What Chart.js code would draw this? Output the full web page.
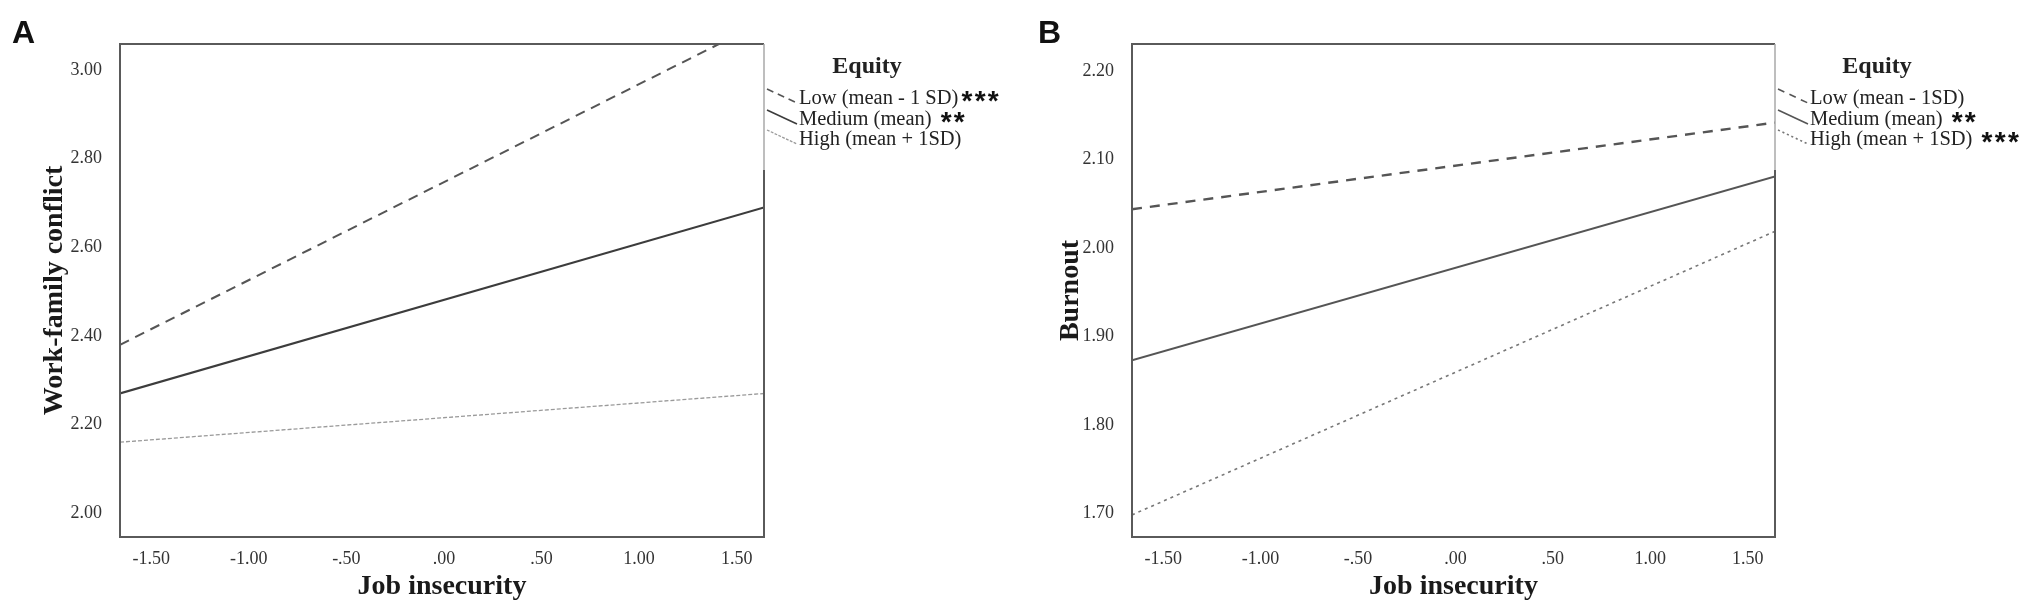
<!DOCTYPE html>
<html>
<head>
<meta charset="utf-8">
<script src="https://cdn.jsdelivr.net/npm/chart.js@4.4.1/dist/chart.umd.min.js"></script>
<style>
  html, body { margin: 0; padding: 0; background: #fff; }
  body { width: 2033px; height: 608px; position: relative; overflow: hidden; }
  .panel { position: absolute; top: 0; height: 608px; }
  #wrapA { left: 0; width: 1016px; }
  #wrapB { left: 1016px; width: 1017px; }
</style>
</head>
<body>
<div class="panel" id="wrapA"><canvas id="chartA"></canvas></div>
<div class="panel" id="wrapB"><canvas id="chartB"></canvas></div>
<script>
// Job insecurity (centred) : ends of the simple slopes
const jobInsecurity = [-1.66, 1.64];

// Panel A : work-family conflict
const wfcLow = [2.38, 3.11];
const wfcMedium = [2.27, 2.69];
const wfcHigh = [2.16, 2.27];

// Panel B : burnout
const burnLow = [2.044, 2.142];
const burnMedium = [1.873, 2.081];
const burnHigh = [1.698, 2.019];

// ticks
const xTickValues = [-1.5, -1, -0.5, 0, 0.5, 1, 1.5];
const xTickLabels = ['-1.50', '-1.00', '-.50', '.00', '.50', '1.00', '1.50'];
const wfcTickValues = [2.0, 2.2, 2.4, 2.6, 2.8, 3.0];
const wfcTickLabels = ['2.00', '2.20', '2.40', '2.60', '2.80', '3.00'];
const burnTickValues = [1.7, 1.8, 1.9, 2.0, 2.1, 2.2];
const burnTickLabels = ['1.70', '1.80', '1.90', '2.00', '2.10', '2.20'];

// legend
const legendTitle = 'Equity';
const legendA = ['Low (mean - 1 SD)', 'Medium (mean)', 'High (mean + 1SD)'];
const starsA = ['***', '**', ''];
const legendB = ['Low (mean - 1SD)', 'Medium (mean)', 'High (mean + 1SD)'];
const starsB = ['', '**', '***'];

const SERIF = '"Liberation Serif", "Times New Roman", serif';
const SANS = '"Liberation Sans", Arial, sans-serif';

const lineStyles = [
    { color: '#555', width: 2, dash: [10, 7] },
    { color: '#3c3c3c', width: 2.2, dash: [] },
    { color: '#9a9a9a', width: 1.3, dash: [4, 2] }
];
const lineStylesB = [
    { color: '#555', width: 2.4, dash: [10, 8] },
    { color: '#555', width: 1.9, dash: [] },
    { color: '#777', width: 1.6, dash: [3, 4] }
];

function pts(vals) {
    return jobInsecurity.map((x, i) => ({ x: x, y: vals[i] }));
}

// frame, panel letter and SPSS-like legend, drawn on top
const decorPlugin = {
    id: 'decor',
    afterDraw(chart, args, o) {
        const { ctx, chartArea: a } = chart;
        ctx.save();
        // frame
        ctx.setLineDash([]);
        ctx.strokeStyle = '#5a5a5a';
        ctx.lineWidth = 2;
        ctx.beginPath();
        ctx.moveTo(a.right, 170);
        ctx.lineTo(a.right, a.bottom);
        ctx.lineTo(a.left, a.bottom);
        ctx.lineTo(a.left, a.top);
        ctx.lineTo(a.right, a.top);
        ctx.stroke();
        ctx.strokeStyle = '#a8a8a8';
        ctx.lineWidth = 1.5;
        ctx.beginPath();
        ctx.moveTo(a.right, a.top);
        ctx.lineTo(a.right, 170);
        ctx.stroke();

        // panel letter
        ctx.fillStyle = '#111';
        ctx.font = 'bold 32px ' + SANS;
        ctx.textAlign = 'left';
        ctx.textBaseline = 'alphabetic';
        ctx.fillText(o.letter, o.letterX, 43);

        // legend title
        ctx.fillStyle = '#222';
        ctx.font = 'bold 24px ' + SERIF;
        ctx.textAlign = 'center';
        ctx.fillText(legendTitle, o.titleX, 73);

        // legend entries
        const base = [104, 125, 145];
        o.labels.forEach((lab, i) => {
            const st = o.styles[i];
            ctx.strokeStyle = st.color;
            ctx.lineWidth = Math.min(st.width, 1.6);
            ctx.setLineDash(st.dash.map(d => d * 0.7));
            ctx.beginPath();
            ctx.moveTo(a.right + 3, base[i] - 15);
            ctx.lineTo(o.textX - 2, base[i] - 1);
            ctx.stroke();
            ctx.setLineDash([]);

            ctx.fillStyle = '#222';
            ctx.font = '20.5px ' + SERIF;
            ctx.textAlign = 'left';
            ctx.fillText(lab, o.textX, base[i]);
            if (o.stars[i]) {
                const w = ctx.measureText(lab).width;
                ctx.font = 'bold 28px ' + SANS;
                ctx.fillStyle = '#111';
                ctx.fillText(o.stars[i].split('').join('\u200A'), o.textX + w + o.starGap[i], base[i] + 6);
            }
        });
        ctx.restore();
    }
};

function makePanel(id, cfg) {
    const ctx = document.getElementById(id).getContext('2d');
    return new Chart(ctx, {
        type: 'line',
        data: {
            datasets: cfg.series.map((s, i) => ({
                label: cfg.labels[i],
                data: pts(s),
                borderColor: cfg.styles[i].color,
                borderWidth: cfg.styles[i].width,
                borderDash: cfg.styles[i].dash,
                pointRadius: 0,
                tension: 0,
                fill: false
            }))
        },
        options: {
            responsive: true,
            maintainAspectRatio: false,
            animation: false,
            layout: { padding: { top: 44, right: cfg.padRight, bottom: 0, left: 0 } },
            scales: {
                x: {
                    type: 'linear',
                    min: jobInsecurity[0],
                    max: jobInsecurity[1],
                    grid: { display: false },
                    border: { display: false },
                    afterBuildTicks: s => { s.ticks = xTickValues.map(v => ({ value: v })); },
                    afterFit: s => { s.height = 71; },
                    ticks: {
                        padding: 3,
                        autoSkip: false,
                        maxRotation: 0,
                        color: '#333',
                        font: { family: SERIF, size: 18 },
                        callback: v => xTickLabels[xTickValues.indexOf(v)]
                    },
                    title: {
                        display: true,
                        text: 'Job insecurity',
                        color: '#1a1a1a',
                        font: { family: SERIF, size: 28, weight: 'bold' },
                        padding: { top: 0, bottom: 4 }
                    }
                },
                y: {
                    type: 'linear',
                    min: cfg.yMin,
                    max: cfg.yMax,
                    grid: { display: false },
                    border: { display: false },
                    afterBuildTicks: s => { s.ticks = cfg.yTicks.map(v => ({ value: v })); },
                    afterFit: s => { s.width = cfg.yWidth; },
                    ticks: {
                        padding: 10,
                        color: '#333',
                        font: { family: SERIF, size: 18 },
                        callback: v => cfg.yLabels[cfg.yTicks.findIndex(t => Math.abs(t - v) < 1e-6)]
                    },
                    title: {
                        display: true,
                        text: cfg.yTitle,
                        color: '#1a1a1a',
                        font: { family: SERIF, size: 28, weight: 'bold' },
                        padding: { top: 38, bottom: 0 }
                    }
                }
            },
            plugins: {
                legend: { display: false },
                tooltip: { enabled: false },
                decor: {
                    letter: cfg.letter,
                    letterX: cfg.letterX,
                    titleX: cfg.titleX,
                    textX: cfg.textX,
                    labels: cfg.labels,
                    stars: cfg.stars,
                    starGap: cfg.starGap,
                    styles: cfg.styles
                }
            }
        },
        plugins: [decorPlugin]
    });
}

makePanel('chartA', {
    series: [wfcLow, wfcMedium, wfcHigh],
    labels: legendA,
    stars: starsA,
    starGap: [3, 9, 0],
    styles: lineStyles,
    yMin: 1.946, yMax: 3.059,
    yTicks: wfcTickValues, yLabels: wfcTickLabels,
    yTitle: 'Work-family conflict',
    yWidth: 120, padRight: 252,
    letter: 'A', letterX: 12,
    titleX: 867, textX: 799
});

makePanel('chartB', {
    series: [burnLow, burnMedium, burnHigh],
    labels: legendB,
    stars: starsB,
    starGap: [0, 9, 9],
    styles: lineStylesB,
    yMin: 1.673, yMax: 2.231,
    yTicks: burnTickValues, yLabels: burnTickLabels,
    yTitle: 'Burnout',
    yWidth: 116, padRight: 258,
    letter: 'B', letterX: 22,
    titleX: 861, textX: 794
});
</script>
</body>
</html>
